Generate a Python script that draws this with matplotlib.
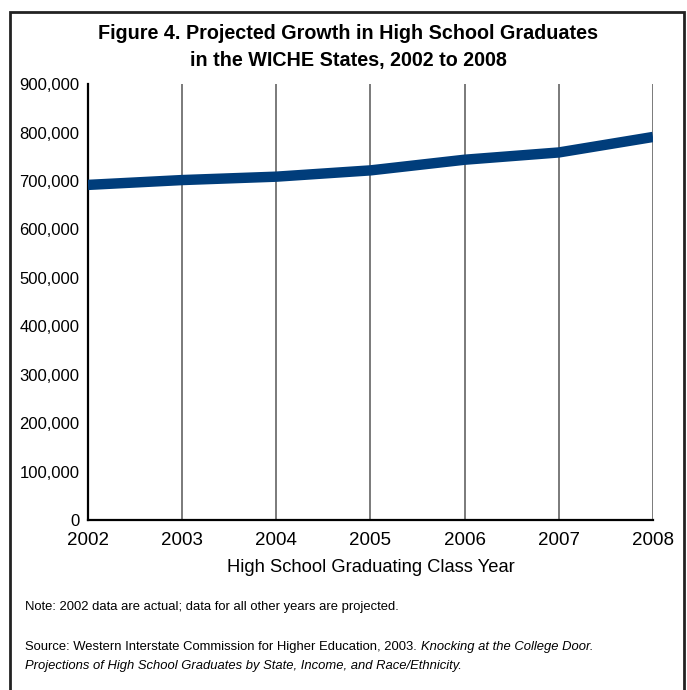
import matplotlib.pyplot as plt
from matplotlib.patches import Rectangle
from matplotlib.ticker import FuncFormatter

plt.rcParams['font.family'] = ['Liberation Sans Narrow', 'Liberation Sans', 'DejaVu Sans']

years = [2002, 2003, 2004, 2005, 2006, 2007, 2008]
graduates = [692000, 702000, 709000, 722000, 744000, 759000, 791000]
yticks = [0, 100000, 200000, 300000, 400000, 500000, 600000, 700000, 800000, 900000]

fig = plt.figure(figsize=(6.87, 6.90), dpi=100)
ax = fig.add_axes([0.128, 0.2464, 0.8225, 0.6316])

ax.plot(years, graduates, color='#003d7b', linewidth=7.5, solid_capstyle='butt', zorder=3)

ax.set_xlim(2002, 2008)
ax.set_ylim(0, 900000)
ax.set_xticks(years)
ax.set_yticks(yticks)
ax.yaxis.set_major_formatter(FuncFormatter(lambda v, p: '{:,.0f}'.format(v)))
ax.tick_params(axis='x', length=0, pad=9, labelsize=13.5)
ax.tick_params(axis='y', length=0, pad=6, labelsize=12)

for y in years[1:]:
    ax.axvline(y, color='#6f6f6f', linewidth=1.3, zorder=1)

ax.spines['top'].set_visible(False)
ax.spines['right'].set_visible(False)
ax.spines['left'].set_linewidth(1.6)
ax.spines['bottom'].set_linewidth(1.6)

ax.set_xlabel('High School Graduating Class Year', fontsize=13.2, labelpad=7)

fig.text(0.507, 0.951, 'Figure 4. Projected Growth in High School Graduates', ha='center', va='center',
         fontsize=14.2, fontweight='bold')
fig.text(0.507, 0.913, 'in the WICHE States, 2002 to 2008', ha='center', va='center',
         fontsize=14.2, fontweight='bold')

fs = 9.4
fig.text(0.037, 0.121, 'Note: 2002 data are actual; data for all other years are projected.',
         ha='left', va='center', fontsize=fs)
src = fig.text(0.037, 0.062, 'Source: Western Interstate Commission for Higher Education, 2003. ',
               ha='left', va='center', fontsize=fs)
fig.canvas.draw()
bb = src.get_window_extent()
fig.text(bb.x1 / fig.bbox.width, 0.062, 'Knocking at the College Door.',
         ha='left', va='center', fontsize=fs, style='italic')
fig.text(0.037, 0.035, 'Projections of High School Graduates by State, Income, and Race/Ethnicity.',
         ha='left', va='center', fontsize=fs, style='italic')

fig.patches.append(Rectangle((0.0145, -0.01), 0.981, 0.993, transform=fig.transFigure,
                             fill=False, edgecolor='#222222', linewidth=2))

fig.savefig('out.png', dpi=100)
